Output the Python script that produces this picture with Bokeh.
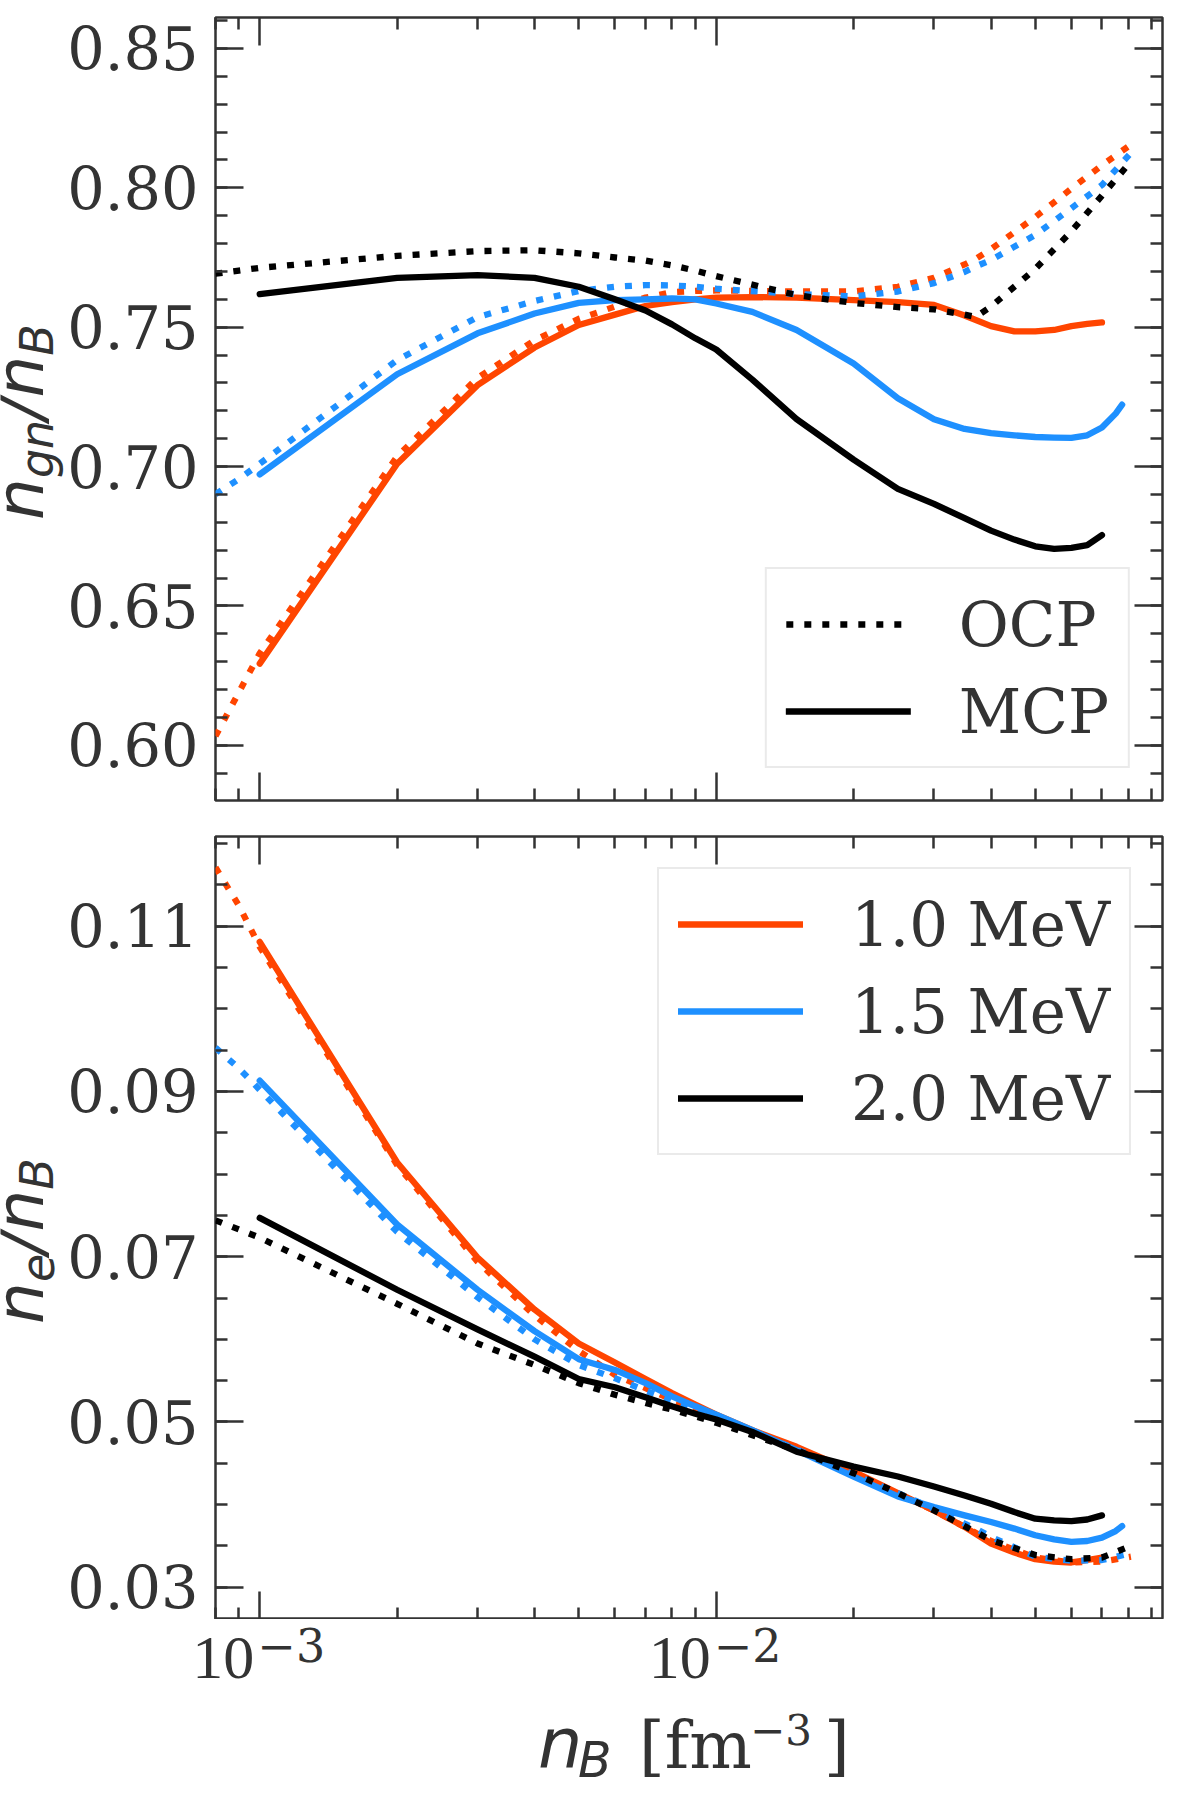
import math

import numpy as np
from bokeh.embed import file_html
from bokeh.layouts import column, row
from bokeh.models import (CustomJSTickFormatter, FixedTicker, Label, Legend, LegendItem,
                          LinearAxis, LogAxis, NumeralTickFormatter, Range1d)
from bokeh.plotting import figure
from bokeh.resources import INLINE

# ---- data ----
temps = ["1.0", "1.5", "2.0"]

x_ocp = [0.0008, 0.0009, 0.001, 0.002, 0.003, 0.004, 0.005, 0.006, 0.007, 0.008, 0.009, 0.010,
         0.015, 0.020, 0.025, 0.030, 0.035, 0.037, 0.040, 0.050, 0.060, 0.070, 0.081]
x_mcp = [0.001, 0.002, 0.003, 0.004, 0.005, 0.006, 0.007, 0.008, 0.009, 0.010, 0.012, 0.015,
         0.020, 0.025, 0.030, 0.035, 0.040, 0.045, 0.050, 0.055, 0.060, 0.065, 0.070]
x_mcp_15 = x_mcp + [0.075, 0.0775]

# n_gn / n_B, OCP (dotted)
ngn_ocp_10 = [0.6033, 0.619, 0.633, 0.7036, 0.7318, 0.7453, 0.753, 0.7574, 0.7606, 0.7626, 0.763, 0.7632,
              0.7628, 0.7628, 0.7645, 0.7677, 0.7725, 0.7745, 0.778, 0.7895, 0.7997, 0.8081, 0.8155]
ngn_ocp_15 = [0.6901, 0.6955, 0.701, 0.7382, 0.7536, 0.7594, 0.763, 0.7645, 0.7651, 0.765, 0.7645, 0.7638,
              0.7619, 0.761, 0.7628, 0.7658, 0.7698, 0.7718, 0.7741, 0.7831, 0.7927, 0.801, 0.8125]
ngn_ocp_20 = [0.7692, 0.7703, 0.7713, 0.7756, 0.7773, 0.7776, 0.7765, 0.775, 0.7739, 0.7722, 0.7703, 0.7683,
              0.7615, 0.7587, 0.7572, 0.7564, 0.7545, 0.7537, 0.7574, 0.7709, 0.7844, 0.7972, 0.8095]
# n_gn / n_B, MCP (solid)
ngn_mcp_10 = [0.6293, 0.701, 0.7292, 0.7427, 0.7508, 0.7545, 0.7576, 0.759, 0.760, 0.7606, 0.7608, 0.7606,
              0.7597, 0.759, 0.758, 0.7542, 0.7504, 0.7485, 0.7485, 0.749, 0.7504, 0.7512, 0.7517]
ngn_mcp_15 = [0.6972, 0.7331, 0.7478, 0.7549, 0.7587, 0.7597, 0.760, 0.7603, 0.760, 0.7585, 0.7555, 0.749,
              0.737, 0.7245, 0.717, 0.7135, 0.712, 0.7112, 0.7106, 0.7104, 0.7103, 0.7112, 0.714, 0.719, 0.7222]
ngn_mcp_20 = [0.7619, 0.7677, 0.7687, 0.7677, 0.7645, 0.760, 0.756, 0.751, 0.746, 0.742, 0.7312, 0.717,
              0.7025, 0.692, 0.6866, 0.6815, 0.677, 0.6738, 0.6714, 0.6705, 0.6708, 0.6718, 0.6754]

# n_e / n_B, OCP (dotted)
ne_ocp_10 = [0.1171, 0.1125, 0.1075, 0.0811, 0.0694, 0.0629, 0.0586, 0.0557, 0.0541, 0.0527, 0.0516, 0.0507,
             0.0468, 0.0438, 0.0413, 0.0393, 0.0373, 0.0366, 0.0356, 0.0336, 0.0330, 0.0331, 0.0337]
ne_ocp_15 = [0.0953, 0.0928, 0.0902, 0.0730, 0.0651, 0.0600, 0.0569, 0.0553, 0.0538, 0.0526, 0.0515, 0.0506,
             0.0467, 0.0436, 0.0414, 0.0395, 0.0377, 0.0371, 0.0361, 0.0337, 0.0332, 0.0333, 0.0341]
ne_ocp_20 = [0.0744, 0.0733, 0.0723, 0.0643, 0.0595, 0.0569, 0.0547, 0.0533, 0.0523, 0.0515, 0.0507, 0.0499,
             0.0466, 0.0438, 0.0414, 0.0393, 0.0374, 0.0367, 0.0357, 0.0339, 0.0334, 0.0336, 0.0350]
# n_e / n_B, MCP (solid)
ne_mcp_10 = [0.1081, 0.0814, 0.0699, 0.0636, 0.0595, 0.0572, 0.0552, 0.0535, 0.0521, 0.0509, 0.0490, 0.0470,
             0.0440, 0.0414, 0.0393, 0.0373, 0.0353, 0.0342, 0.0334, 0.0331, 0.0330, 0.0333, 0.0336]
ne_mcp_15 = [0.0913, 0.0739, 0.0660, 0.0610, 0.0576, 0.0563, 0.0547, 0.0531, 0.0519, 0.0509, 0.0490, 0.0466,
             0.0434, 0.0410, 0.0397, 0.0387, 0.0379, 0.0371, 0.0363, 0.0358, 0.0355, 0.0356, 0.0360, 0.0368, 0.0374]
ne_mcp_20 = [0.0747, 0.0660, 0.0612, 0.0579, 0.0552, 0.0542, 0.0530, 0.0519, 0.0510, 0.0503, 0.0488, 0.0464,
             0.0446, 0.0434, 0.0422, 0.0411, 0.0401, 0.0391, 0.0383, 0.0381, 0.0380, 0.0382, 0.0387]

# ticks
x_major = [1e-3, 1e-2]
x_exps = ["\u22123", "\u22122"]
ngn_ticks = [0.60, 0.65, 0.70, 0.75, 0.80, 0.85]
ne_ticks = [0.03, 0.05, 0.07, 0.09, 0.11]

INK = "#333333"
COLORS = {"1.0": "#ff4500", "1.5": "#1e90ff", "2.0": "#000000"}
LW = 6.3
DOTS = "7 11"
X0, X1 = 8e-4, 0.095

# page geometry (pixels)
LAB_W = 64          # strip holding the rotated y labels
FRAME_L, FRAME_W = 214, 947
TOP1, FH = 17, 783
GAP1, GAP2 = 17, 19
BOT2 = 0
PAGE_W, PAGE_H = 1184, 1792
DROP = 0.32         # labels come out this many em below the asked baseline

x_minor = [8e-4, 9e-4] + [k * 1e-3 for k in range(2, 10)] + [k * 1e-2 for k in range(2, 10)]

# advance widths (em) used to string math pieces together
W_SANS = {"n": 0.634, "g": 0.635, "e": 0.615, "/": 0.337, "B": 0.686}
W_SERIF = {"\u2212": 0.838, "2": 0.636, "3": 0.636}
W_TIMES = {"1": 0.5, "0": 0.5}


def text_w(s, size, table):
    return sum(table.get(c, 0.6) for c in s) * size


def put(p, text, x, y, size, italic=False, font="DejaVu Serif", rotated=False):
    # x, y: wanted baseline start in page pixels
    if rotated:
        x -= DROP * size
    else:
        y -= DROP * size
    p.add_layout(Label(x=x, y=y, text=text, angle=math.pi / 2 if rotated else 0.0,
                       text_font=font, text_font_size=f"{size}px",
                       text_font_style="italic" if italic else "normal",
                       text_color=INK, text_align="left", text_baseline="alphabetic"))


def canvas(w, h, x_lo, x_hi, y_top, y_bot):
    # blank figure whose frame fills it; coordinates are page pixels
    c = figure(frame_width=w, frame_height=h, min_border=0, x_range=Range1d(x_lo, x_hi),
               y_range=Range1d(y_bot, y_top), x_axis_location=None, y_axis_location=None,
               output_backend="svg", toolbar_location=None)
    c.grid.visible = False
    c.outline_line_color = None
    return c


def make_panel(y_start, y_end, yticks, yminor, top, bottom):
    p = figure(x_axis_type="log", x_range=Range1d(X0, X1), y_range=Range1d(y_start, y_end),
               frame_width=FRAME_W, frame_height=FH, min_border_left=FRAME_L - LAB_W,
               min_border_right=PAGE_W - FRAME_L - FRAME_W,
               min_border_top=top, min_border_bottom=bottom,
               output_backend="svg", toolbar_location=None)
    p.xgrid.grid_line_color = None
    p.ygrid.grid_line_color = None
    p.outline_line_color = INK
    p.outline_line_width = 2.5

    xt = FixedTicker(ticks=x_major, minor_ticks=x_minor)
    yt = FixedTicker(ticks=yticks, minor_ticks=yminor)
    blank = CustomJSTickFormatter(code="return ''")
    p.xaxis.ticker = xt
    p.xaxis.formatter = blank
    p.yaxis.ticker = yt
    p.yaxis.formatter = NumeralTickFormatter(format="0.00")
    p.add_layout(LogAxis(ticker=xt, formatter=blank), "above")
    p.add_layout(LinearAxis(ticker=yt, formatter=blank), "right")
    for ax in p.axis:
        ax.axis_line_color = None
        ax.major_tick_in = 28
        ax.major_tick_out = 0
        ax.minor_tick_in = 12
        ax.minor_tick_out = 0
        ax.major_tick_line_color = INK
        ax.minor_tick_line_color = INK
        ax.major_tick_line_width = 2.5
        ax.minor_tick_line_width = 2.5
        ax.major_label_standoff = 0
        ax.major_label_text_font_size = "0px"
    p.yaxis[0].major_label_standoff = 17
    p.yaxis[0].major_label_text_font = "DejaVu Serif"
    p.yaxis[0].major_label_text_font_size = "59px"
    p.yaxis[0].major_label_text_color = INK
    return p


def add_curves(p, ocp, mcp):
    solid, dotted = {}, {}
    for t in temps:
        xm = x_mcp_15 if t == "1.5" else x_mcp
        solid[t] = p.line(xm, mcp[t], line_color=COLORS[t], line_width=LW,
                          line_cap="round", line_join="round")
        dotted[t] = p.line(x_ocp, ocp[t], line_color=COLORS[t], line_width=LW,
                           line_dash=DOTS, line_join="round")
    return solid, dotted


def legend(items, location, margin):
    return Legend(items=items, location=location, margin=margin, padding=19, spacing=15,
                  glyph_width=125, glyph_height=72, label_height=72, label_standoff=48,
                  label_text_font="DejaVu Serif", label_text_font_size="61px",
                  label_text_color=INK, label_text_baseline="middle",
                  border_line_color="#d6d6d6", border_line_width=2.5,
                  background_fill_color="white", background_fill_alpha=0.8)


def y_label(c, sub, mid):
    # rotated math label  n_sub / n_B  (sans oblique, subscripts lowered)
    pieces = [("n", 66, 0), (sub, 46, 1), ("/", 66, 0), ("n", 66, 0), ("B", 46, 1)]
    total = sum(text_w(s, sz, W_SANS) for s, sz, _ in pieces)
    pos = mid + total / 2
    for s, sz, is_sub in pieces:
        put(c, s, 51 if is_sub else 41, pos, sz, italic=True, font="DejaVu Sans", rotated=True)
        pos -= text_w(s, sz, W_SANS)


def page_x(v):
    return FRAME_L + FRAME_W * (math.log10(v) - math.log10(X0)) / (math.log10(X1) - math.log10(X0))


# ---- top panel: n_gn / n_B ----
h1 = TOP1 + FH + GAP1
p1 = make_panel(0.5802, 0.8611, ngn_ticks, list(np.round(np.arange(0.58, 0.861, 0.01), 3)), TOP1, GAP1)
s1, d1 = add_curves(p1, {"1.0": ngn_ocp_10, "1.5": ngn_ocp_15, "2.0": ngn_ocp_20},
                    {"1.0": ngn_mcp_10, "1.5": ngn_mcp_15, "2.0": ngn_mcp_20})
p1.add_layout(legend([LegendItem(label="OCP", renderers=[d1["2.0"]]),
                      LegendItem(label="MCP", renderers=[s1["2.0"]])], "bottom_right", 32))
lab1 = canvas(LAB_W, h1, 0, LAB_W, 0, h1)
y_label(lab1, "gn", TOP1 + FH / 2 - 4)

# ---- bottom panel: n_e / n_B ----
h2 = GAP2 + FH + BOT2
p2 = make_panel(0.0261, 0.12085, ne_ticks, list(np.round(np.arange(0.03, 0.121, 0.005), 3)), GAP2, BOT2)
s2, d2 = add_curves(p2, {"1.0": ne_ocp_10, "1.5": ne_ocp_15, "2.0": ne_ocp_20},
                    {"1.0": ne_mcp_10, "1.5": ne_mcp_15, "2.0": ne_mcp_20})
p2.add_layout(legend([LegendItem(label=f"{t} MeV", renderers=[s2[t]]) for t in temps],
                     "top_right", 31))
lab2 = canvas(LAB_W, h2, 0, LAB_W, h1, h1 + h2)
y_label(lab2, "e", h1 + GAP2 + FH / 2 - 6)

# ---- strip under the bottom panel: tick labels and axis title ----
FB = h1 + GAP2 + FH          # frame bottom on the page
y0 = h1 + h2
xl = canvas(PAGE_W, PAGE_H - y0, 0, PAGE_W, y0, PAGE_H)
for xv, ex in zip(x_major, x_exps):
    w10 = text_w("10", 62, W_TIMES)
    wex = text_w(ex, 46, W_SERIF)
    start = page_x(xv) - (w10 + wex + 3) / 2
    put(xl, "10", start, FB + 58, 62, font="Liberation Serif")
    put(xl, ex, start + w10 + 3, FB + 40, 46)

ctr = FRAME_L + FRAME_W / 2
parts = [("n", -150, 70, "sans", 0), ("B", -110, 49, "sans", 10), ("[fm", -49, 66, "serif", 0),
         ("\u22123", 62, 42, "serif", -24), ("]", 136, 66, "serif", 0)]
for s, dx, sz, f, dy in parts:
    put(xl, s, ctr + dx, FB + 147 + dy, sz, italic=(f == "sans"),
        font="DejaVu Sans" if f == "sans" else "DejaVu Serif")

layout = column(row(lab1, p1), row(lab2, p2), xl)
open("out.html", "w").write(file_html(layout, INLINE))
